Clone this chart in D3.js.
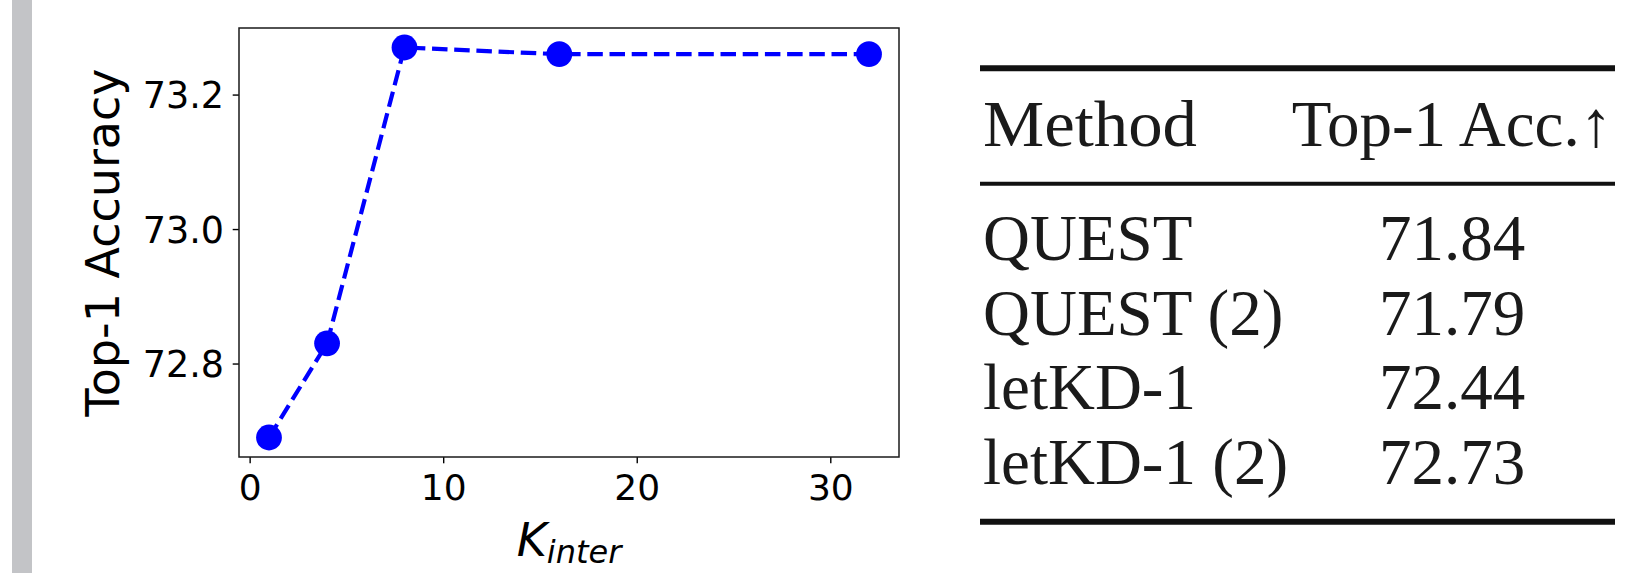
<!DOCTYPE html>
<html>
<head>
<meta charset="utf-8">
<script src="https://cdn.jsdelivr.net/npm/d3@7"></script>
<style>
  html, body { margin: 0; padding: 0; background: #fff; }
  svg { display: block; }
</style>
</head>
<body>
<svg id="chart" width="1630" height="573"></svg>
<script>
// ---- data ----
const kValues = [1, 4, 8, 16, 32];
const accuracy = [72.69, 72.83, 73.27, 73.26, 73.26];
const xTicks = [0, 10, 20, 30];
const yTicks = [72.8, 73.0, 73.2];
const xLabelMain = "K";
const xLabelSub = "inter";
const yLabel = "Top-1 Accuracy";
const tableHeaders = ["Method", "Top-1 Acc.\u2191"];
const methods = ["QUEST", "QUEST (2)", "letKD-1", "letKD-1 (2)"];
const methodAcc = ["71.84", "71.79", "72.44", "72.73"];

// ---- layout ----
const svg = d3.select("#chart");
const plot = { left: 239, right: 899, top: 28, bottom: 457 };

// gray side bar
svg.append("rect").attr("x", 12).attr("y", 0).attr("width", 20).attr("height", 573)
  .attr("fill", "#c3c4c7");

// scales with matplotlib-like 5% margins
const xExt = d3.extent(kValues), yExt = d3.extent(accuracy);
const xPad = (xExt[1] - xExt[0]) * 0.05, yPad = (yExt[1] - yExt[0]) * 0.05;
const x = d3.scaleLinear().domain([xExt[0] - xPad, xExt[1] + xPad]).range([plot.left, plot.right]);
const y = d3.scaleLinear().domain([yExt[0] - yPad, yExt[1] + yPad]).range([plot.bottom, plot.top]);

const tickFont = "'DejaVu Sans', sans-serif";

// x axis
const gx = svg.append("g").attr("transform", `translate(0,${plot.bottom})`)
  .call(d3.axisBottom(x).tickValues(xTicks).tickFormat(d3.format("d")).tickSize(6.3).tickSizeOuter(0).tickPadding(11.6));
gx.select(".domain").remove();
gx.selectAll(".tick line").attr("stroke", "#000").attr("stroke-width", 1.4);
gx.selectAll(".tick text").attr("font-family", tickFont).attr("font-size", 36).attr("fill", "#000")
  .attr("dy", "0.71em");

// y axis
const gy = svg.append("g").attr("transform", `translate(${plot.left},0)`)
  .call(d3.axisLeft(y).tickValues(yTicks).tickFormat(d3.format(".1f")).tickSize(6.3).tickSizeOuter(0).tickPadding(8.7));
gy.select(".domain").remove();
gy.selectAll(".tick line").attr("stroke", "#000").attr("stroke-width", 1.4);
gy.selectAll(".tick text").attr("font-family", tickFont).attr("font-size", 36.5).attr("fill", "#000")
  .attr("dy", 13.3);

// frame
svg.append("rect").attr("x", plot.left).attr("y", plot.top)
  .attr("width", plot.right - plot.left).attr("height", plot.bottom - plot.top)
  .attr("fill", "none").attr("stroke", "#1a1a1a").attr("stroke-width", 1.5);

// line
const pts = kValues.map((k, i) => [k, accuracy[i]]);
svg.append("path").datum(pts)
  .attr("d", d3.line().x(d => x(d[0])).y(d => y(d[1])))
  .attr("fill", "none").attr("stroke", "#0000ff").attr("stroke-width", 4.2)
  .attr("stroke-dasharray", "15.5 6.7");

// markers
svg.selectAll("circle.pt").data(pts).enter().append("circle").attr("class", "pt")
  .attr("cx", d => x(d[0])).attr("cy", d => y(d[1])).attr("r", 12.9).attr("fill", "#0000ff");

// axis labels
const xl = svg.append("text").attr("x", (plot.left + plot.right) / 2).attr("y", 556)
  .attr("text-anchor", "middle").attr("font-family", tickFont).attr("font-style", "italic")
  .attr("font-size", 46).attr("fill", "#000");
xl.append("tspan").text(xLabelMain);
xl.append("tspan").attr("font-size", 32).attr("dy", 7).text(xLabelSub);

svg.append("text").attr("transform", `translate(118.5,${(plot.top + plot.bottom) / 2}) rotate(-90)`)
  .attr("text-anchor", "middle").attr("font-family", tickFont).attr("font-size", 46)
  .attr("fill", "#000").text(yLabel);

// ---- table ----
const tbl = { left: 980, right: 1615, methodX: 983, accX: 1452 };
const serif = "'Liberation Serif', 'DejaVu Serif', serif";
const rules = [{ y: 68.2, w: 6 }, { y: 183.7, w: 4 }, { y: 521.7, w: 6 }];
svg.selectAll("line.rule").data(rules).enter().append("line").attr("class", "rule")
  .attr("x1", tbl.left).attr("x2", tbl.right).attr("y1", d => d.y).attr("y2", d => d.y)
  .attr("stroke", "#111").attr("stroke-width", d => d.w);

svg.append("text").attr("x", tbl.methodX).attr("y", 146).attr("font-family", serif)
  .attr("font-size", 65).attr("fill", "#1a1a1a")
  .attr("textLength", 214).attr("lengthAdjust", "spacingAndGlyphs").text(tableHeaders[0]);
svg.append("text").attr("x", tbl.accX).attr("y", 146).attr("text-anchor", "middle")
  .attr("font-family", serif).attr("font-size", 65).attr("fill", "#1a1a1a").text(tableHeaders[1]);

const rowY = d3.scaleLinear().domain([0, methods.length - 1]).range([260, 484]);
methods.forEach((m, i) => {
  svg.append("text").attr("x", tbl.methodX).attr("y", rowY(i)).attr("font-family", serif)
    .attr("font-size", 65).attr("fill", "#1a1a1a").text(m);
  svg.append("text").attr("x", tbl.accX).attr("y", rowY(i)).attr("text-anchor", "middle")
    .attr("font-family", serif).attr("font-size", 65).attr("fill", "#1a1a1a").text(methodAcc[i]);
});
</script>
</body>
</html>
